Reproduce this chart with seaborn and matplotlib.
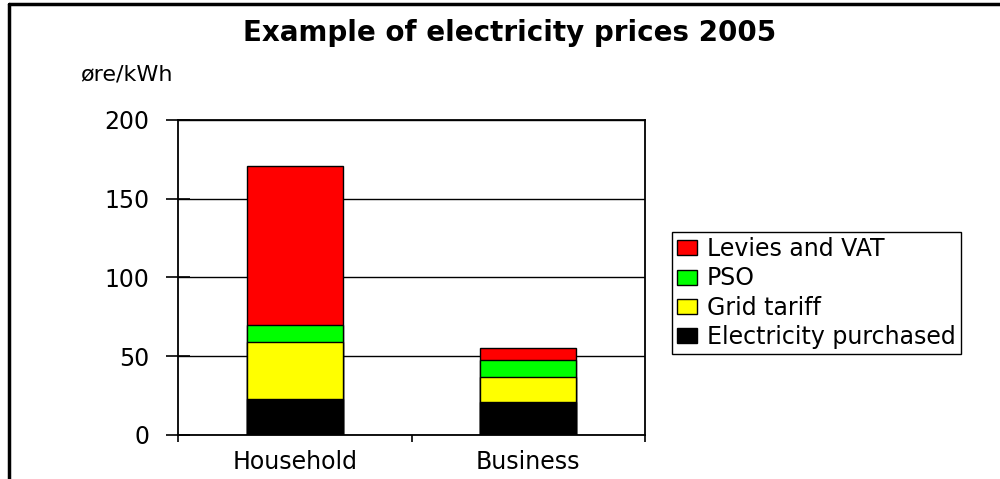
import matplotlib
matplotlib.use("Agg")
import matplotlib.pyplot as plt
import seaborn as sns
import numpy as np
from matplotlib.patches import Patch
from matplotlib.lines import Line2D

# ---- data ----
categories = ["Household", "Business"]
electricity_purchased = [23, 21]
grid_tariff = [36, 16]
pso = [11, 10.5]
levies_vat = [101, 7.5]
series_names = ["Levies and VAT", "PSO", "Grid tariff", "Electricity purchased"]
series_colors = ["#FF0000", "#00FF00", "#FFFF00", "#000000"]
yticks = [0, 50, 100, 150, 200]
title = "Example of electricity prices 2005"
unit_label = "øre/kWh"

sns.set_theme(style="white")
plt.rcParams["font.family"] = ["DejaVu Sans"]
plt.rcParams["text.color"] = "black"

fig = plt.figure(figsize=(10, 4.79), dpi=100)
ax = fig.add_axes([0.178, 0.0919, 0.467, 0.6576])

# cumulative stacks (bottom -> top)
layers = [electricity_purchased, grid_tariff, pso, levies_vat]
cum = np.cumsum(np.array(layers, dtype=float), axis=0)
# draw from top-most total down so lower segments overlay
layer_colors_bottom_up = ["#000000", "#FFFF00", "#00FF00", "#FF0000"]
for i in range(len(layers) - 1, -1, -1):
    sns.barplot(x=categories, y=cum[i], color=layer_colors_bottom_up[i],
                saturation=1, width=0.41, edgecolor="black", linewidth=1.0,
                ax=ax, zorder=3)

ax.set_ylim(0, 200)
ax.set_xlim(-0.5, 1.5)
ax.set_yticks(yticks)
ax.set_yticklabels([str(v) for v in yticks])
ax.set_xlabel("")
ax.set_ylabel("")
ax.set_axisbelow(True)
ax.yaxis.grid(True, color="black", linewidth=1.0)
ax.xaxis.grid(False)
for s in ax.spines.values():
    s.set_visible(True)
    s.set_color("black")
    s.set_linewidth(1.3)

ax.tick_params(axis="y", direction="inout", length=17, width=1.2, color="black",
               labelsize=17, labelcolor="black", pad=12, left=True)
ax.set_xticks([0, 1])
ax.set_xticklabels(categories)
ax.set_xticks([-0.5, 0.5, 1.5], minor=True)
ax.tick_params(axis="x", which="major", length=0, labelsize=17, labelcolor="black", pad=11)
ax.tick_params(axis="x", which="minor", direction="out", length=5, width=1.2,
               color="black", bottom=True)

fig.text(0.51, 1 - 33 / 479, title, fontsize=20, fontweight="bold",
         ha="center", va="center", color="black")
fig.text(0.080, 1 - 75 / 479, unit_label, fontsize=16, ha="left", va="center",
         color="black")

handles = [Patch(facecolor=c, edgecolor="black", linewidth=1.0) for c in series_colors]
leg = fig.legend(handles, series_names, loc="upper left",
                 bbox_to_anchor=(0.672, 1 - 232 / 479), frameon=True,
                 fancybox=False, shadow=False, edgecolor="black", fontsize=17,
                 handlelength=0.85, handleheight=0.6, handletextpad=0.4,
                 labelspacing=0.22, borderpad=0.22, borderaxespad=0,
                 labelcolor="black")
leg.get_frame().set_linewidth(1.0)
leg.get_frame().set_alpha(1)

fig.add_artist(Line2D([0.009, 0.009], [0, 0.992], transform=fig.transFigure,
                      color="black", linewidth=2.5))
fig.add_artist(Line2D([0.009, 1.0], [0.992, 0.992], transform=fig.transFigure,
                      color="black", linewidth=2.5))

fig.savefig("out.png", dpi=100, facecolor="white")
